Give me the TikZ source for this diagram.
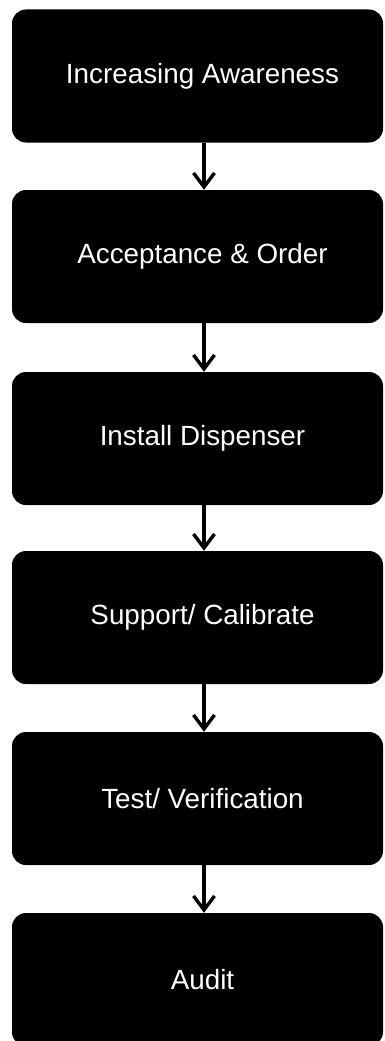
\documentclass[tikz,border=0pt]{standalone}
\usepackage{fontspec}
\setmainfont{Liberation Sans}
\usetikzlibrary{arrows.meta}
\begin{document}
\begin{tikzpicture}[x=1pt,y=-1pt,
  stagebox/.style={fill=black, draw=none, rounded corners=14pt,
    minimum width=371pt, minimum height=133pt, inner sep=0pt,
    label={[stagetext]center:#1}},
  stagetext/.style={text=white, xshift=5pt, inner sep=0pt,
    font=\fontsize{27.8}{33}\selectfont},
  flowarrow/.style={line width=3.2pt, draw=black,
    -{Straight Barb[length=14pt, width=21pt, line width=3.4pt]}}]
\useasboundingbox (0,0) rectangle (384,1041);
\clip (0,0) rectangle (384,1041);
\node[stagebox={Increasing Awareness}] (s1) at (197.5,76)    {};
\node[stagebox={Acceptance \& Order}]  (s2) at (197.5,256.5) {};
\node[stagebox={Install Dispenser}]    (s3) at (197.5,438.5) {};
\node[stagebox={Support/ Calibrate}]   (s4) at (197.5,617.5) {};
\node[stagebox={Test/ Verification}]   (s5) at (197.5,798.5) {};
\node[stagebox={Audit}]                (s6) at (197.5,979.5) {};
\coordinate (ax) at (204,0);
\foreach \a/\b in {s1/s2,s2/s3,s3/s4,s4/s5,s5/s6}
  \draw[flowarrow] (\a.south -| ax) -- (\b.north -| ax);
\end{tikzpicture}
\end{document}
